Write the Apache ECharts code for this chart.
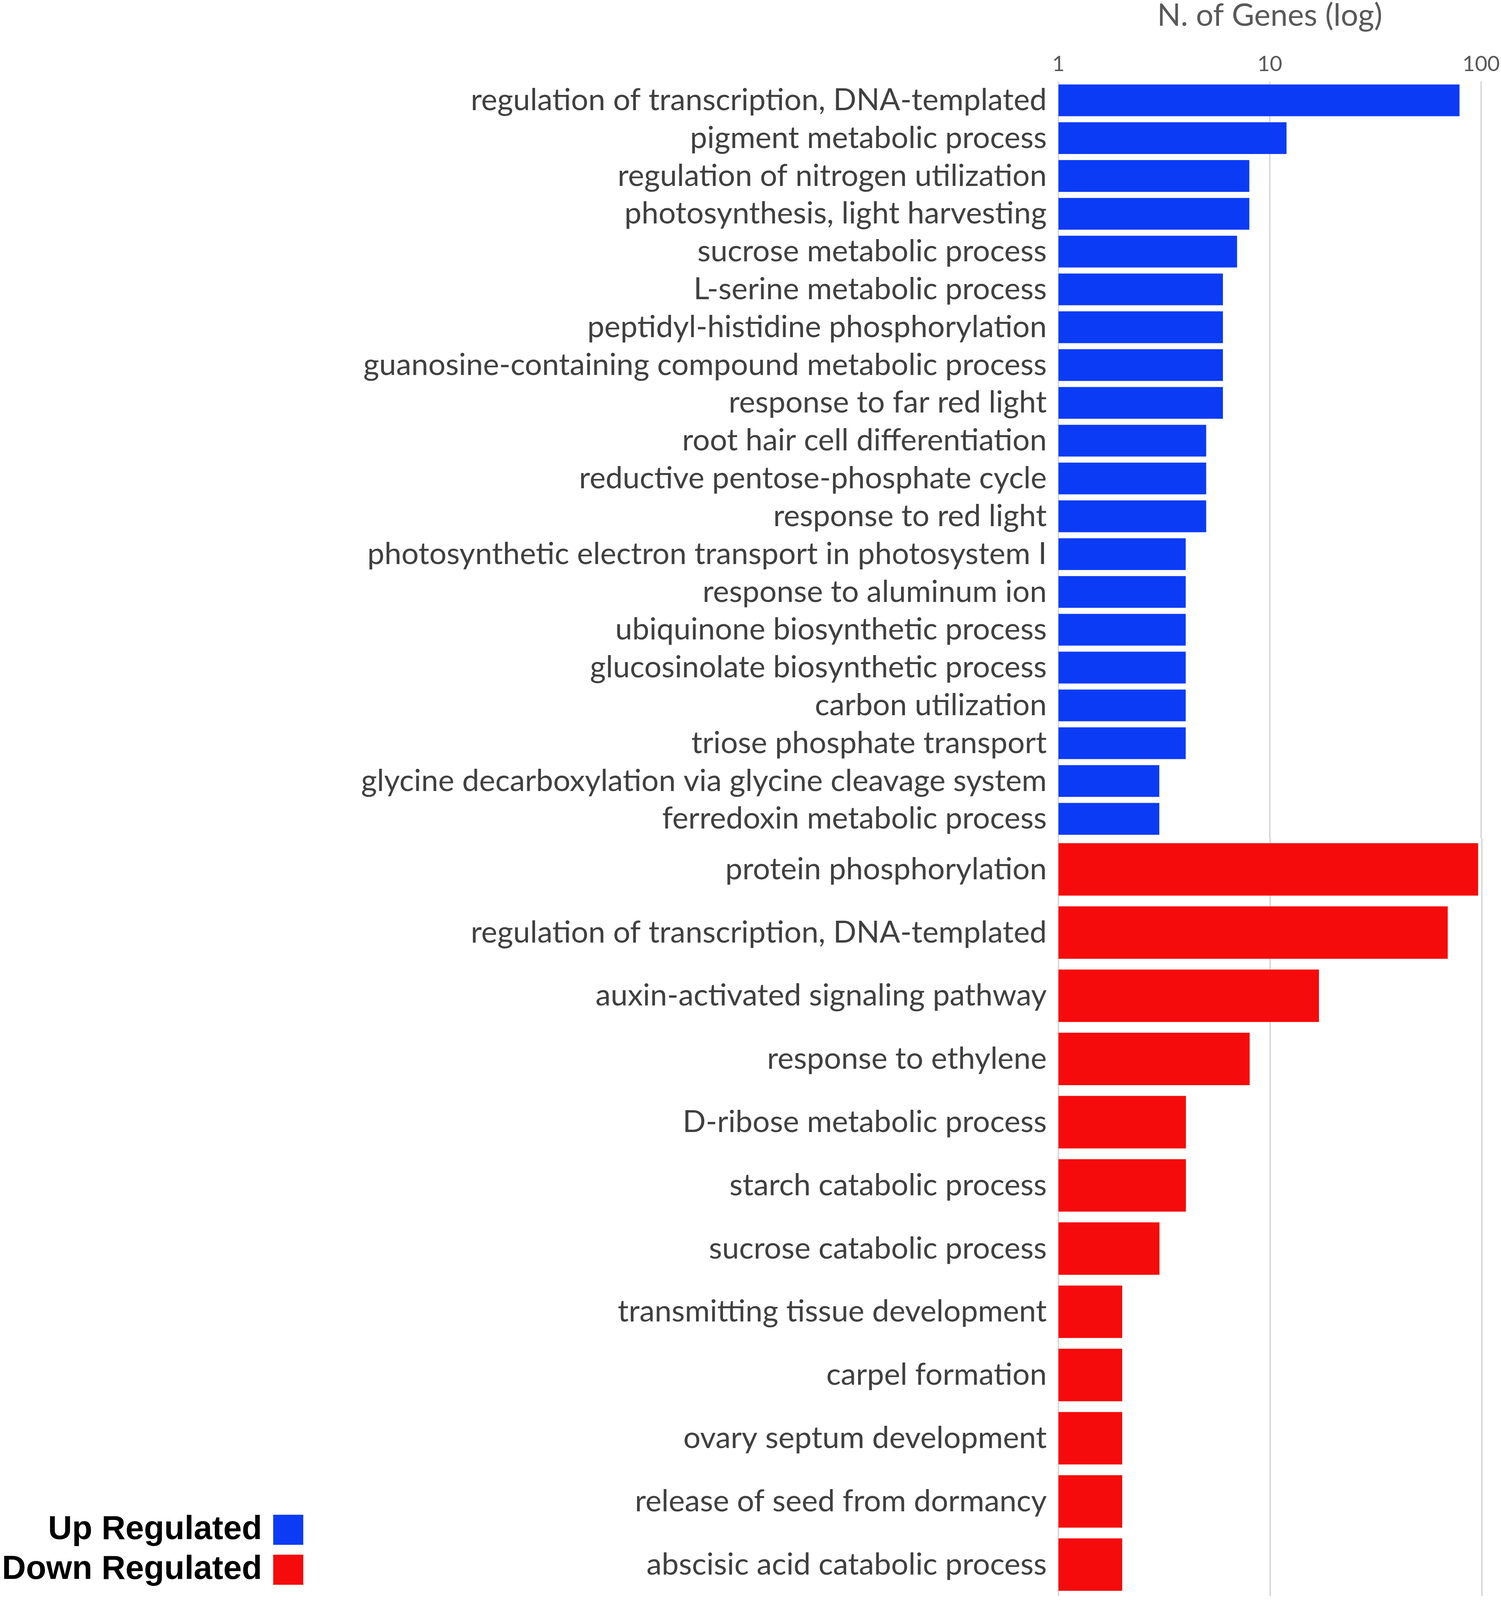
<!DOCTYPE html>
<html>
<head>
<meta charset="utf-8">
<script src="https://cdn.jsdelivr.net/npm/echarts@6/dist/echarts.min.js"></script>
<style>
  html, body { margin:0; padding:0; background:#fff; width:100%; height:100%; overflow:hidden; }
  #chart { width:100%; height:100%; }
</style>
</head>
<body>
<div id="chart"></div>
<script>
// GO terms, top block (up regulated) then bottom block (down regulated)
var upTerms = [
  'regulation of transcription, DNA-templated',
  'pigment metabolic process',
  'regulation of nitrogen utilization',
  'photosynthesis, light harvesting',
  'sucrose metabolic process',
  'L-serine metabolic process',
  'peptidyl-histidine phosphorylation',
  'guanosine-containing compound metabolic process',
  'response to far red light',
  'root hair cell differentiation',
  'reductive pentose-phosphate cycle',
  'response to red light',
  'photosynthetic electron transport in photosystem I',
  'response to aluminum ion',
  'ubiquinone biosynthetic process',
  'glucosinolate biosynthetic process',
  'carbon utilization',
  'triose phosphate transport',
  'glycine decarboxylation via glycine cleavage system',
  'ferredoxin metabolic process'
];
var upCounts = [79, 12, 8, 8, 7, 6, 6, 6, 6, 5, 5, 5, 4, 4, 4, 4, 4, 4, 3, 3];

var downTerms = [
  'protein phosphorylation',
  'regulation of transcription, DNA-templated',
  'auxin-activated signaling pathway',
  'response to ethylene',
  'D-ribose metabolic process',
  'starch catabolic process',
  'sucrose catabolic process',
  'transmitting tissue development',
  'carpel formation',
  'ovary septum development',
  'release of seed from dormancy',
  'abscisic acid catabolic process'
];
var downCounts = [96, 69, 17, 8, 4, 4, 3, 2, 2, 2, 2, 2];

var seriesNames = ['Up Regulated', 'Down Regulated'];

var BLUE = '#0b3bf5', RED = '#f50b0b';
var labelFont = 'Lato';

var chart = echarts.init(document.getElementById('chart'), null, {renderer:'canvas'});
// layout was measured on a 4641px tall figure; squeeze vertically if the window is shorter
var sy = Math.min(1, chart.getHeight() / 4641);

function xAx(idx, showLabels){
  return {
    type:'log', logBase:10, min:1, max:100, gridIndex:idx,
    position:'top',
    name: showLabels ? 'N. of Genes (log)' : '',
    nameLocation:'middle', nameGap:150 * sy - 20 * (1 - sy) * 5 / 3,
    nameTextStyle:{ fontFamily:labelFont, fontSize:79, color:'#595959' },
    axisLine:{show:false}, axisTick:{show:false},
    axisLabel:{ show:showLabels, margin:22 * sy - 3, fontFamily:labelFont, fontSize:55, color:'#595959' },
    splitLine:{ show:true, lineStyle:{ color:'#d9d9d9', width:4 } }
  };
}
function yAx(idx, terms){
  return {
    type:'category', data:terms, inverse:true, gridIndex:idx,
    axisLine:{show:false}, axisTick:{show:false},
    axisLabel:{ interval:0, margin:30, fontFamily:labelFont, fontSize:78, color:'#404040' }
  };
}

chart.setOption({
  animation:false,
  backgroundColor:'#fff',
  grid:[
    { left:2710, right:49, top:226 * sy, height:2204 * sy },
    { left:2710, right:49, top:2430 * sy, height:2200 * sy }
  ],
  xAxis:[ xAx(0, true), xAx(1, false) ],
  yAxis:[ yAx(0, upTerms), yAx(1, downTerms) ],
  legend:{
    data:seriesNames,
    orient:'vertical', align:'right',
    left:0, top:4388 * sy - 4,
    itemWidth:77, itemHeight:77, itemGap:Math.max(4, 116 * sy - 85),
    icon:'rect',
    formatter:function(n){ return n + ' '; },
    textStyle:{ fontFamily:'Liberation Sans', fontWeight:'bold', fontSize:85, color:'#000' }
  },
  series:[
    { name:seriesNames[0], type:'bar', xAxisIndex:0, yAxisIndex:0,
      data:upCounts, barCategoryGap:'16%', itemStyle:{color:BLUE} },
    { name:seriesNames[1], type:'bar', xAxisIndex:1, yAxisIndex:1,
      data:downCounts, barCategoryGap:'17%', itemStyle:{color:RED} }
  ]
});
</script>
</body>
</html>
